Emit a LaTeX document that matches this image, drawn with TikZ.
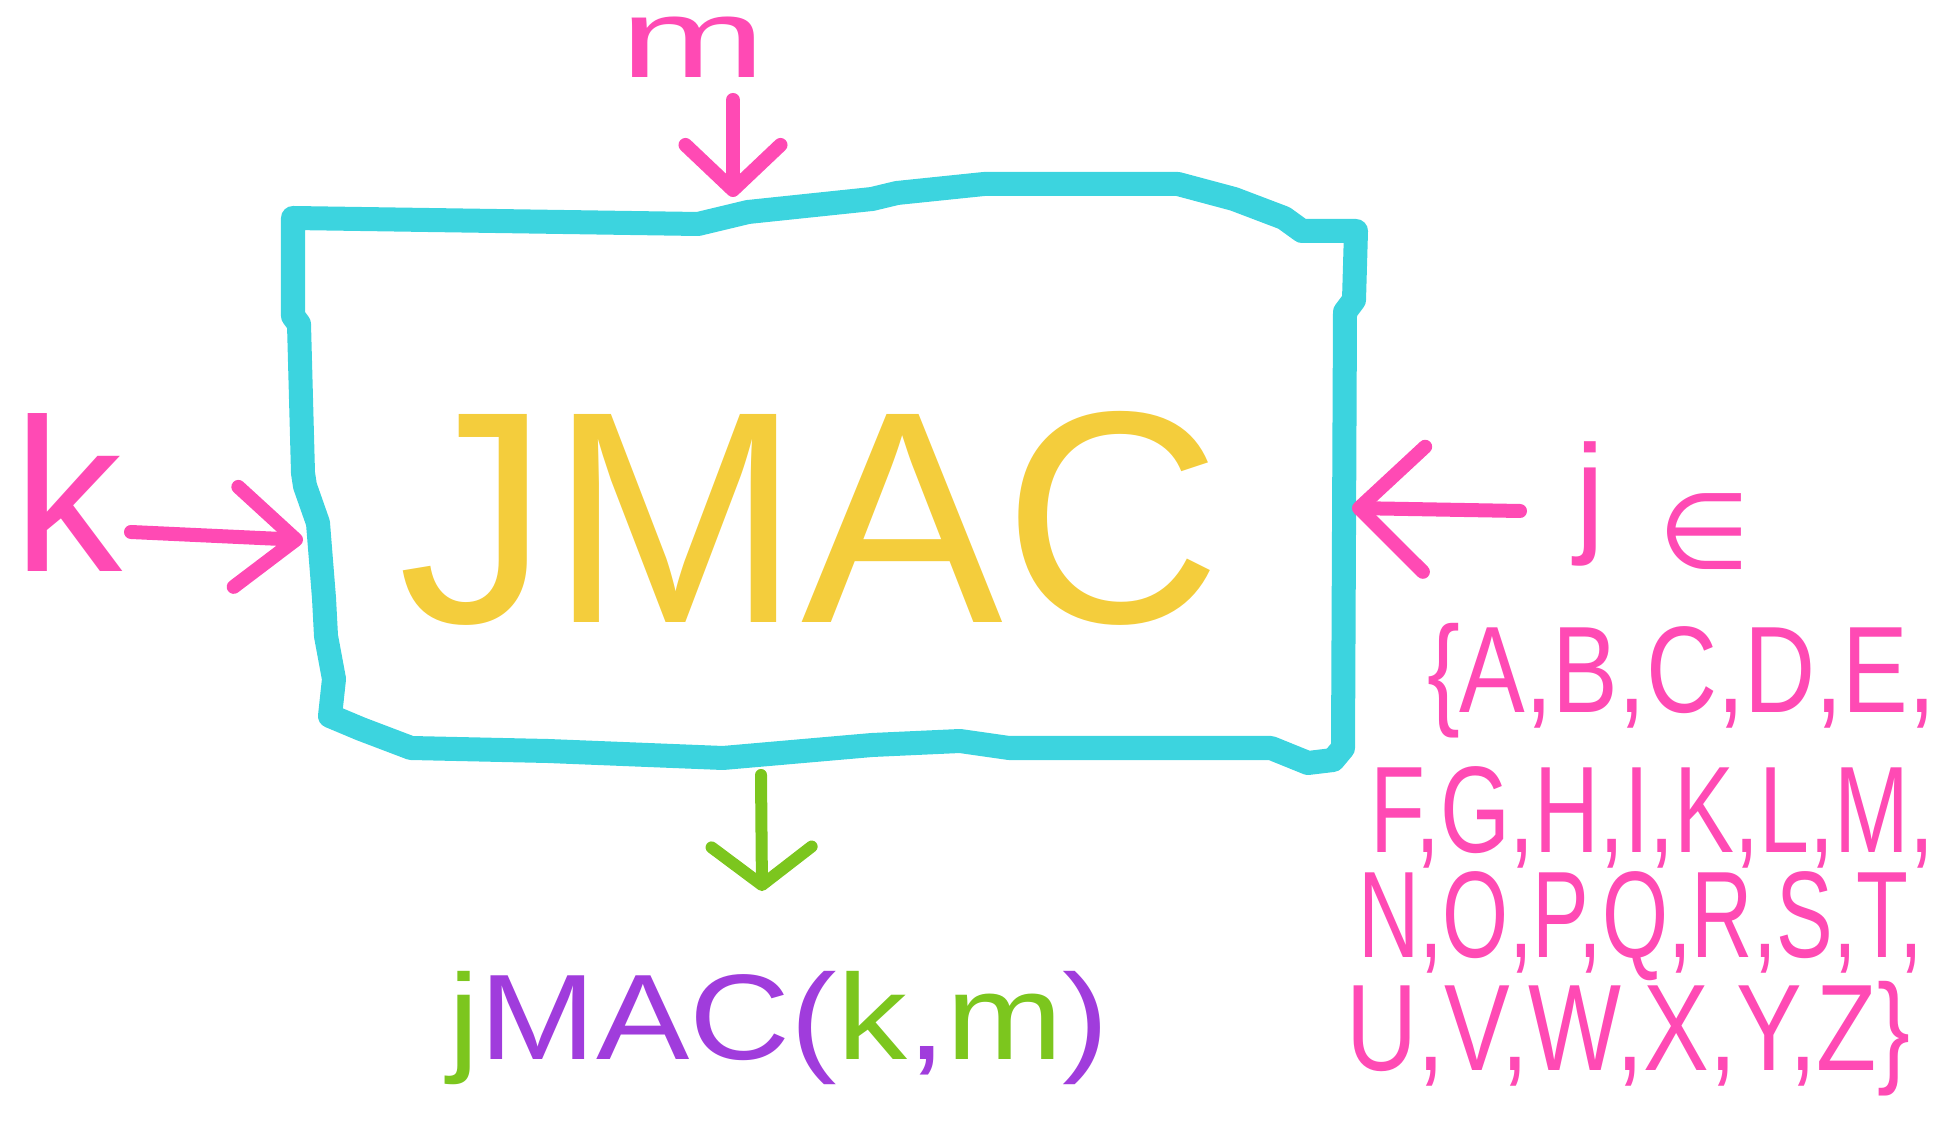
\documentclass[tikz,border=0pt]{standalone}
\usepackage{fontspec}
\setmainfont{Liberation Sans}
\newfontfamily\symfont{DejaVu Sans}
\usepackage{graphicx}
\usetikzlibrary{arrows.meta}
\definecolor{boxcyan}{HTML}{3CD4DF}
\definecolor{hpink}{HTML}{FF4AB4}
\definecolor{hyellow}{HTML}{F4CD3C}
\definecolor{hgreen}{HTML}{7CC61E}
\definecolor{hpurple}{HTML}{A03CDC}
\begin{document}
\begin{tikzpicture}[x=0.01cm,y=-0.01cm,
  every node/.style={inner sep=0pt,outer sep=0pt},
  boxline/.style={draw=boxcyan,line width=0.24cm,line cap=round,line join=round},
  pinkarrow/.style={draw=hpink,line width=0.14cm,line cap=round,line join=round},
  greenarrow/.style={draw=hgreen,line width=0.12cm,line cap=round,line join=round},
  pinktext/.style={text=hpink,anchor=base},
  setline/.style={text=hpink,anchor=base west,font=\fontsize{35}{35}\selectfont}
]
\useasboundingbox (0,0) rectangle (1954,1134);
% hand-drawn box
\draw[boxline] (293,218) -- (698,224) -- (748,212) -- (872,199) -- (897,193) -- (984,184)
  -- (1178,184) -- (1234,199) -- (1284,218) -- (1302,231) -- (1356,231)
  -- (1354,300) -- (1345,312) -- (1343,748) -- (1333,760) -- (1308,763) -- (1271,748)
  -- (1009,748) -- (960,741) -- (872,745) -- (723,758) -- (548,751) -- (411,748)
  -- (361,729) -- (330,716) -- (334,679) -- (326,636) -- (324,598) -- (318,523)
  -- (305,486) -- (303,473) -- (299,324) -- (293,316) -- cycle;
% big label
\node[text=hyellow,anchor=base,font=\fontsize{86}{86}\selectfont] (jmac) at (810,623) {JMAC};
% inputs
\node[pinktext,font=\fontsize{32}{32}\selectfont] (mlab) at (693,78) {\scalebox{1.55}[1]{m}};
\node[pinktext,font=\fontsize{62}{62}\selectfont] (klab) at (68,572) {k};
\node[pinktext,font=\fontsize{38}{38}\selectfont] (jlab) at (1590,539) {j};
\node[text=hpink,font=\symfont\fontsize{30}{30}\selectfont] (inlab) at (1704,532) {∈};
\node[setline] (s1) at (1427,713) {\scalebox{0.8}[1]{\{A,B,C,D,E,}};
\node[setline] (s2) at (1370,853) {\scalebox{0.73}[1]{F,G,H,I,K,L,M,}};
\node[setline] (s3) at (1358,957) {\scalebox{0.69}[1]{N,O,P,Q,R,S,T,}};
\node[setline] (s4) at (1346,1070) {\scalebox{0.8}[1]{U,V,W,X,Y,Z\}}};
% output
\node[anchor=base,font=\fontsize{34.6}{35}\selectfont] (out) at (779,1059)
  {\scalebox{1.15}[1]{\textcolor{hgreen}{j}\textcolor{hpurple}{MAC(}\textcolor{hgreen}{k}\textcolor{hpurple}{,}\textcolor{hgreen}{m}\textcolor{hpurple}{)}}};
% arrow end points
\coordinate (mstart) at (733,100);
\coordinate (mtip) at (733,197);
\coordinate (kstart) at (131,532);
\coordinate (ktip) at (303,540);
\coordinate (jstart) at (1520,511);
\coordinate (jtip) at (1352,508);
\coordinate (ostart) at (761,775);
\coordinate (otip) at (762,891);
\draw[pinkarrow,-{Straight Barb[length=0.45cm,width=0.95cm,round]}] (mstart) -- (mtip);
\draw[pinkarrow,-{Straight Barb[length=0.6cm,width=1.0cm,round]}] (kstart) -- (ktip);
\draw[pinkarrow,-{Straight Barb[length=0.65cm,width=1.25cm,round]}] (jstart) -- (jtip);
\draw[greenarrow,-{Straight Barb[length=0.38cm,width=1.0cm,round]}] (ostart) -- (otip);
\end{tikzpicture}
\end{document}
